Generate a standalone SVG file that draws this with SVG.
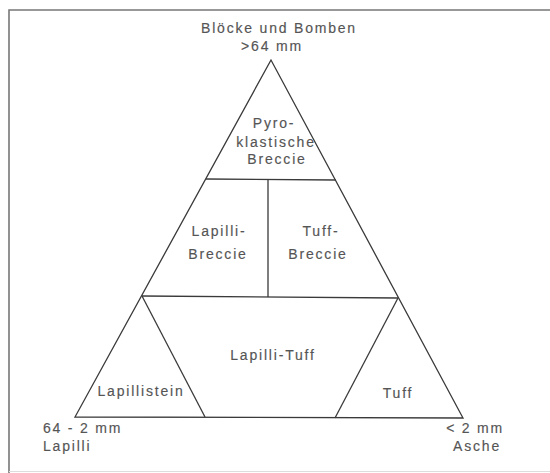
<svg xmlns="http://www.w3.org/2000/svg" width="550" height="473" viewBox="0 0 550 473">
<style>
.t{font-family:"Liberation Sans",Arial,sans-serif;font-size:14px;fill:#555;stroke:#555;stroke-width:0.15;letter-spacing:1.8px;text-anchor:middle}
.s{fill:none;stroke:#3a3a3a;stroke-width:1.3;stroke-linejoin:miter}
</style>
<rect width="550" height="473" fill="#fff"/>
<g id="frame">
<path d="M9,473 V10 H550" fill="none" stroke="#777" stroke-width="1.6"/>
<path d="M9,471.5 H550" fill="none" stroke="#ddd" stroke-width="1"/>
</g>
<g id="connectors">
<path class="s" d="M271,60 L75,417 L463,418 Z"/>
<path class="s" d="M206,179 L336,180"/>
<path class="s" d="M268,180 V297"/>
<path class="s" d="M142,296 L398,298"/>
<path class="s" d="M142,296 L205,417"/>
<path class="s" d="M398,298 L335,418"/>
</g>
<g id="top-label"><text class="t" x="279" y="33">Blöcke und Bomben</text><text class="t" x="272" y="51">&gt;64 mm</text></g>
<g id="pyro"><text class="t" x="274" y="128">Pyro-</text><text class="t" x="276" y="147">klastische</text><text class="t" x="277" y="164">Breccie</text></g>
<g id="lapilli-breccie"><text class="t" x="219" y="236">Lapilli-</text><text class="t" x="218" y="259">Breccie</text></g>
<g id="tuff-breccie"><text class="t" x="321" y="236">Tuff-</text><text class="t" x="318" y="259">Breccie</text></g>
<g id="lapilli-tuff"><text class="t" x="273" y="360">Lapilli-Tuff</text></g>
<g id="lapillistein"><text class="t" x="141" y="396">Lapillistein</text></g>
<g id="tuff"><text class="t" x="398" y="398">Tuff</text></g>
<g id="left-label"><text class="t" x="43" y="433" style="text-anchor:start">64 - 2 mm</text><text class="t" x="43" y="451" style="text-anchor:start">Lapilli</text></g>
<g id="right-label"><text class="t" x="504" y="433" style="text-anchor:end">&lt; 2 mm</text><text class="t" x="501" y="451" style="text-anchor:end">Asche</text></g>
</svg>
